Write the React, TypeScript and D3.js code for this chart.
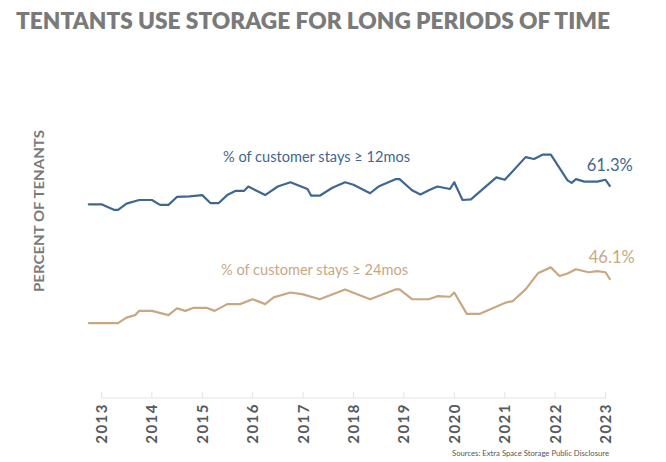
import React from "react";
import * as d3 from "d3";

const title = "TENTANTS USE STORAGE FOR LONG PERIODS OF TIME";
const yAxisLabel = "PERCENT OF TENANTS";
const sourceText = "Sources: Extra Space Storage Public Disclosure";
const yearTicks = [2013, 2014, 2015, 2016, 2017, 2018, 2019, 2020, 2021, 2022, 2023];

const label12 = "% of customer stays \u2265 12mos";
const label24 = "% of customer stays \u2265 24mos";

const dates12 = [
  "2012-10", "2013-01", "2013-04", "2013-05", "2013-07", "2013-10", "2014-01", "2014-03", "2014-05", "2014-07",
  "2014-10", "2015-01", "2015-03", "2015-05", "2015-07", "2015-09", "2015-11", "2015-12", "2016-04", "2016-07",
  "2016-10", "2017-02", "2017-03", "2017-05", "2017-08", "2017-11", "2018-01", "2018-05", "2018-07", "2018-11",
  "2018-12", "2019-03", "2019-05", "2019-07", "2019-09", "2019-12", "2020-01", "2020-03", "2020-05", "2020-11",
  "2021-01", "2021-06", "2021-08", "2021-10", "2021-12", "2022-04", "2022-05", "2022-06", "2022-08", "2022-11",
  "2023-01", "2023-02",
];
const values12 = [
  58.3, 58.3, 57.4, 57.4, 58.4, 59.0, 59.0, 58.2, 58.2, 59.5,
  59.6, 59.8, 58.5, 58.5, 59.8, 60.5, 60.5, 61.2, 59.8, 61.2,
  61.9, 60.8, 59.7, 59.7, 61.0, 61.9, 61.5, 60.1, 61.2, 62.4,
  62.4, 60.6, 59.9, 60.6, 61.2, 60.8, 61.9, 59.0, 59.1, 62.7,
  62.3, 66.0, 65.7, 66.4, 66.4, 62.2, 61.8, 62.4, 62.0, 62.0,
  62.3, 61.3,
];

const dates24 = [
  "2012-10", "2013-05", "2013-07", "2013-09", "2013-10", "2014-01", "2014-05", "2014-07", "2014-09", "2014-11",
  "2015-02", "2015-04", "2015-07", "2015-10", "2016-01", "2016-04", "2016-06", "2016-10", "2017-01", "2017-05",
  "2017-11", "2018-05", "2018-11", "2018-12", "2019-03", "2019-07", "2019-09", "2019-12", "2020-01", "2020-04",
  "2020-07", "2020-10", "2021-01", "2021-03", "2021-06", "2021-09", "2021-12", "2022-02", "2022-04", "2022-06",
  "2022-09", "2022-11", "2023-01", "2023-02",
];
const values24 = [
  38.9, 38.9, 39.8, 40.2, 40.9, 40.9, 40.2, 41.3, 40.9, 41.4,
  41.4, 40.9, 42.0, 42.0, 42.8, 42.0, 43.1, 43.9, 43.6, 42.8,
  44.4, 42.8, 44.4, 44.4, 42.8, 42.8, 43.3, 43.2, 43.9, 40.4,
  40.4, 41.3, 42.2, 42.5, 44.4, 47.1, 48.0, 46.6, 47.0, 47.7,
  47.2, 47.4, 47.2, 46.1,
];

const BLUE = "#3f6791";
const TAN = "#c8a882";

const parse = d3.timeParse("%Y-%m");

export default function App() {
  const W = 666;
  const H = 462;
  const x = d3
    .scaleTime()
    .domain([new Date(2013, 0, 1), new Date(2023, 0, 1)])
    .range([101.5, 605.5]);
  const y = d3.scaleLinear().domain([27, 75]).range([396, 102]);

  const s12 = dates12.map((d, i) => ({ d: parse(d) as Date, v: values12[i] }));
  const s24 = dates24.map((d, i) => ({ d: parse(d) as Date, v: values24[i] }));

  const line = d3
    .line<{ d: Date; v: number }>()
    .x((p) => x(p.d))
    .y((p) => y(p.v));

  const axisY = 398;
  const last12 = s12[s12.length - 1];
  const last24 = s24[s24.length - 1];

  return (
    <svg
      width={W}
      height={H}
      style={{ position: "absolute", left: 0, top: 0, background: "#fff" }}
      fontFamily="Lato, 'Open Sans', sans-serif"
    >
      <text
        x={16}
        y={29}
        fontSize={22}
        fontWeight={800}
        fill="#7a7a7a"
        textLength={594}
        lengthAdjust="spacingAndGlyphs"
      >
        {title}
      </text>

      <text
        transform="translate(44,211) rotate(-90)"
        textAnchor="middle"
        fontSize={14}
        fontWeight={700}
        fill="#7a7a7a"
        textLength={162}
        lengthAdjust="spacingAndGlyphs"
      >
        {yAxisLabel}
      </text>

      {/* x axis */}
      <line x1={x(new Date(2013, 0, 1))} x2={x(new Date(2023, 0, 1))} y1={axisY} y2={axisY} stroke="#e3e3e3" strokeWidth={1} />
      {yearTicks.map((yr) => {
        const px = x(new Date(yr, 0, 1));
        return (
          <g key={yr}>
            <line x1={px} x2={px} y1={axisY - 6} y2={axisY} stroke="#e3e3e3" strokeWidth={1} />
            <text
              transform={`translate(${px},${axisY + 5}) rotate(-90)`}
              textAnchor="end"
              dy="0.36em"
              fontSize={15}
              fontWeight={700}
              fill="#555a60"
              letterSpacing={1.5}
            >
              {yr}
            </text>
          </g>
        );
      })}

      <path d={line(s12) || ""} fill="none" stroke={BLUE} strokeWidth={2.2} strokeLinejoin="round" strokeLinecap="round" />
      <path d={line(s24) || ""} fill="none" stroke={TAN} strokeWidth={2.2} strokeLinejoin="round" strokeLinecap="round" />

      <text x={223} y={162} fontSize={14.5} fill={BLUE} textLength={187} lengthAdjust="spacingAndGlyphs">
        {label12}
      </text>
      <text x={221} y={275} fontSize={14.5} fill={TAN} textLength={187} lengthAdjust="spacingAndGlyphs">
        {label24}
      </text>

      <text x={x(last12.d) - 23} y={171} fontSize={18} fill={BLUE} textLength={46} lengthAdjust="spacingAndGlyphs">
        {`${last12.v.toFixed(1)}%`}
      </text>
      <text x={x(last24.d) - 21} y={263} fontSize={18} fill={TAN} textLength={46} lengthAdjust="spacingAndGlyphs">
        {`${last24.v.toFixed(1)}%`}
      </text>

      <text x={609} y={456} textAnchor="end" fontSize={8} fill="#555" textLength={157} lengthAdjust="spacingAndGlyphs">
        {sourceText}
      </text>
    </svg>
  );
}
